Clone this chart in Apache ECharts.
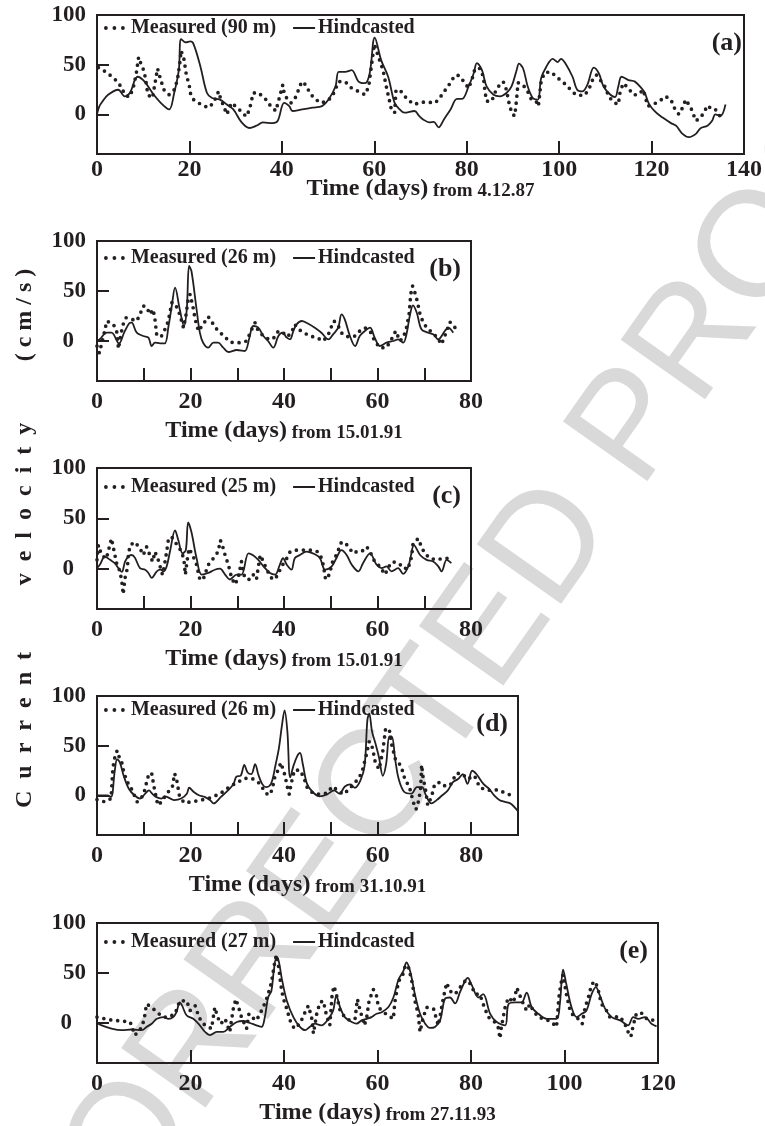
<!DOCTYPE html>
<html><head><meta charset="utf-8">
<script src="https://cdn.jsdelivr.net/npm/echarts@6/dist/echarts.min.js"></script>
<style>html,body{margin:0;padding:0;background:#fff}#c{width:765px;height:1126px}</style>
</head><body><div id="c"></div>
<script>
// ---------- DATA (day, cm/s) ----------
const measuredA = [[0.3,47],[1.35,44.4],[2.8,39.5],[4.2,33.9],[5.3,27.3],[6.0,19.7],[7.0,17.4],[7.8,25.7],[8.5,41.1],[9.0,57.6],[9.5,51.0],[10.1,44.4],[10.5,36.2],[11.0,19.7],[12.0,16.4],[13.1,46.1],[13.8,34.5],[14.5,24.7],[15.6,19.7],[16.7,24.7],[17.4,34.5],[17.9,51.0],[18.2,64.1],[18.8,55.9],[19.4,37.8],[19.9,31.3],[20.2,21.4],[20.9,14.8],[22.5,9.9],[24.1,6.6],[25.2,11.5],[26.3,23.0],[26.6,18.1],[27.4,8.2],[28.1,0],[29.1,11.5],[30.0,8],[31.2,3],[32.3,-2.3],[33.0,4.9],[33.8,21.4],[34.8,22.0],[36.3,16.4],[37.3,9.9],[38.7,3.3],[40.2,29.6],[40.5,21.4],[41.2,14.8],[42.0,11.5],[43.0,17.4],[44.3,32.9],[45.2,29.6],[45.9,23.0],[46.9,16.4],[48.4,11.5],[49.8,13.2],[50.9,18.1],[52.3,32.9],[53.7,32.9],[55.1,26.3],[56.6,23.0],[58.0,19.7],[58.8,28.0],[59.4,49.3],[60.0,70.7],[60.8,59.2],[61.9,44.4],[62.6,28.0],[63.7,4.9],[64.4,1.6],[64.7,24.7],[65.8,23.0],[67.2,14.8],[68.7,9.9],[70.1,12.2],[71.5,12.2],[73.2,11.5],[74.4,18.1],[75.4,24.7],[76.5,31.9],[77.4,39.1],[78.3,39.1],[79.4,32.9],[80.4,26.3],[81.1,34.5],[81.8,46.1],[82.9,46.1],[83.6,37.8],[84.0,21.4],[84.3,13.2],[85.4,13.2],[86.5,26.3],[87.9,32.9],[88.6,24.7],[89.0,14.8],[89.3,8.2],[89.9,0],[90.4,-1.6],[90.8,15.5],[91.1,31.9],[92.2,29.6],[93.2,23.0],[94.0,14.8],[95.0,13.2],[95.5,8.2],[96.1,32.9],[96.8,41.8],[98.2,42.8],[99.8,36.2],[101.1,31.3],[102.5,24.7],[103.6,19.7],[105.4,18.8],[106.4,24.7],[107.5,37.8],[108.1,39.5],[108.9,34.5],[110.0,27.3],[110.7,18.1],[111.8,12.2],[112.8,9.9],[113.2,23.0],[113.9,31.3],[115.0,26.3],[116.0,19.7],[117.1,19.7],[118.2,24.7],[119.2,8.2],[120.3,9.9],[121.7,13.2],[123.0,18.1],[124.2,14.8],[124.9,6.6],[125.9,0],[126.7,6.6],[127.4,14.8],[128.5,6.6],[129.6,-6.6],[130.6,-3.3],[131.3,1.6],[132.1,8.9],[133.1,4.9],[133.8,4.9],[134.6,0],[135.4,-7.6]];
const hindcastA = [[0,0],[0.5,8],[1.2,13],[2.4,19.7],[4.6,24.7],[6.0,18.1],[7.1,21.4],[8.8,37.8],[10.3,32.9],[12.0,21.4],[13.8,11.5],[15.6,4.9],[16.7,21.4],[17.7,44.4],[18.2,75.7],[19.2,72.4],[20.2,73.4],[20.9,70.7],[22.4,47.7],[23.8,21.4],[24.9,16.4],[26.6,14.8],[28.1,9.9],[29.5,4.9],[31.3,-8.2],[33.0,-13.8],[34.5,-11.5],[35.9,-8.2],[38.0,-8.9],[39.1,-6.6],[40.5,11.5],[41.6,8.2],[42.3,3.3],[44.4,4.9],[46.6,6.6],[48.7,8.2],[50.1,14.8],[51.6,28.0],[52.3,42.8],[53.7,42.8],[55.1,44.4],[56.6,32.9],[58.0,31.3],[59.0,41.1],[60.1,77.3],[61.5,54.3],[63.0,37.8],[64.4,11.5],[65.5,4.9],[66.5,1.6],[68.7,3.3],[69.7,-1.6],[70.5,-4.9],[71.9,-8.2],[72.9,-7.6],[73.9,-13.2],[75.1,-4.9],[76.5,4.9],[77.9,15.5],[79.0,15.5],[80.4,28.0],[81.5,41.1],[82.2,51.6],[83.3,44.4],[84.3,28.0],[85.8,19.7],[87.2,18.1],[88.6,21.4],[89.7,28.0],[90.8,44.4],[91.3,51.0],[92.2,46.1],[93.2,28.0],[94.3,16.4],[95.4,14.8],[96.1,36.2],[97.2,47.7],[98.6,55.9],[99.7,52.6],[100.4,55.9],[101.4,51.0],[102.9,37.8],[103.9,24.7],[105.0,23.0],[106.1,29.6],[107.5,47.0],[108.6,41.1],[109.6,28.0],[111.1,19.7],[112.1,17.4],[112.8,28.0],[113.5,37.8],[115.0,34.5],[116.4,32.9],[117.8,26.3],[118.5,22],[119.5,10],[121.0,1.6],[122.4,-3.3],[124.2,-8.9],[125.3,-11.5],[126.7,-19.7],[128.1,-23.0],[129.6,-19.7],[130.6,-14.1],[132.1,-11.5],[133.1,-6.6],[133.8,0],[134.9,-1.6],[136.0,9.9]];

const measuredB = [[0,-5],[0.5,-12],[1.4,5],[2.1,20],[3.5,16.7],[4.2,10],[4.6,-7.7],[5.1,6.7],[5.6,16.7],[6.2,23.3],[7.1,22.3],[8.5,20],[9.2,26.7],[9.9,35],[10.6,34.3],[11.3,26.7],[12.0,31.7],[12.4,21.7],[12.6,13.3],[12.8,5],[13.8,5],[14.9,15],[15.3,21.7],[15.6,28.3],[16.0,38.3],[16.7,37.7],[17.7,26.7],[18.5,13.3],[19.0,25],[19.5,41.7],[19.9,46.7],[20.5,35],[21.0,21.7],[21.7,10],[22.7,16.7],[23.8,24.3],[24.9,16.7],[25.9,10],[27.2,5],[28.4,-1],[29.5,-1.7],[30.9,-1.7],[32.0,0],[33.1,11.7],[33.8,18.3],[34.5,10],[35.6,5],[36.8,1.7],[37.7,2.3],[38.8,10],[39.8,8.3],[40.7,4.3],[41.6,8.3],[42.3,16.7],[43.1,11.7],[44.3,8.3],[45.5,5],[47.0,3.3],[48.4,0],[49.5,6.7],[50.2,15],[50.7,20],[51.6,15],[52.5,6.7],[53.7,4.3],[55.2,5],[56.2,10],[57.3,13.3],[58.4,10],[59.4,0],[60.5,-6.7],[61.9,-6.7],[63.0,1.7],[63.9,10],[64.8,0],[65.5,3.3],[66.2,13.3],[66.8,28.3],[67.1,46.7],[67.5,55],[68.0,48.3],[68.5,40],[69.1,26.7],[69.8,18.3],[70.8,11.7],[71.9,8.3],[73.0,1.7],[73.7,-3.3],[74.8,10],[75.5,19],[76.6,13.3]];
const hindcastB = [[0,0],[0.6,1.7],[2.1,8.3],[3.1,8.3],[4.7,-2.3],[5.8,8.3],[6.9,17.7],[7.4,18.3],[8.5,8.3],[9.9,5],[11.0,3.3],[11.7,-5],[12.4,-1.7],[13.5,-2.3],[14.5,-2.3],[15.3,15],[16.0,35],[16.7,53.3],[17.7,31.7],[18.6,15],[19.2,31.7],[19.7,75],[20.2,70],[21.3,31.7],[22.0,8.3],[22.7,-1.7],[23.8,-6.7],[24.9,-1.7],[25.9,-1.7],[27.0,-6.7],[28.1,-11],[29.9,-9],[31.6,-10],[32.6,3.3],[33.4,15],[34.5,13.3],[35.6,5],[36.6,0],[37.7,-6.7],[38.8,5],[39.7,8.3],[40.6,3.3],[41.3,1.7],[42.0,10],[42.7,16.7],[43.8,20],[44.8,18.3],[46.6,13.3],[48.0,8.3],[49.5,1.7],[50.5,6.7],[51.6,13.3],[52.3,26.7],[53.0,21.7],[54.1,5],[55.2,-5],[56.2,5],[57.3,10],[58.4,13.3],[59.4,3.3],[60.5,-5],[61.9,-1.7],[63.4,0],[64.4,1.7],[65.5,-1.7],[66.2,6.7],[66.9,25],[67.6,35.7],[68.4,28.3],[69.4,11.7],[70.8,8.3],[71.9,6.7],[73.0,1.7],[74.4,10],[75.1,13.3],[76.2,8.3]];

const measuredC = [[0,8.8],[0.3,23.4],[1.0,13.6],[2.0,10],[3.1,30],[3.8,14.3],[4.2,5.5],[4.9,-2.6],[5.3,-12.3],[5.6,-25.3],[6.0,-9.1],[6.5,0.6],[6.7,13.6],[7.1,23.4],[8.1,26.6],[9.2,20.1],[9.9,13.6],[10.6,21.8],[11.3,13.6],[11.9,7.1],[12.4,16.9],[13.1,8.8],[13.5,2.3],[14.0,-5.8],[14.5,5.5],[14.9,16.9],[15.3,29.9],[16.0,31.5],[16.7,26.6],[17.4,21.8],[18.1,16.9],[18.6,8.8],[18.9,-5.8],[19.3,8.8],[19.7,20.1],[20.6,12],[21.3,3.9],[22.0,-10.7],[22.7,-10.7],[23.8,3.9],[24.9,10.4],[25.9,16.9],[26.4,28.2],[26.9,21.8],[27.4,13.6],[28.1,3.9],[28.8,-9.1],[29.5,-15.6],[30.2,-9.1],[30.9,7.1],[31.6,-9.1],[32.6,-10.7],[33.4,-5.8],[34.1,-10.7],[34.9,13.6],[35.6,7.1],[36.3,-1],[37.3,-9.1],[38.1,-10.7],[38.8,-4.2],[39.7,3.9],[40.6,10.4],[41.3,16.9],[42.7,18.5],[44.1,18.5],[45.5,18.5],[47.0,17.5],[47.8,13.6],[48.4,3.9],[48.9,-10.7],[49.7,-5.8],[50.4,7.1],[51.2,13.6],[52.3,26.6],[53.4,24],[54.8,15.3],[55.5,16.9],[56.6,16.9],[57.7,21.8],[58.4,16.9],[59.4,7.1],[60.5,2.3],[61.6,-5.8],[62.7,4.5],[63.4,7.1],[64.4,3.9],[65.5,3.9],[66.2,-1],[66.8,3.9],[67.3,12],[67.6,25],[68.7,29.9],[69.4,21.8],[70.1,15.3],[71.2,10.4],[72.6,8.8],[74.1,10.4],[75.1,10.4]];
const hindcastC = [[0,0.6],[0.6,3.9],[1.7,12],[2.8,8.8],[3.8,5.5],[4.6,0.6],[5.3,-3.2],[6.0,7.1],[6.7,12],[7.4,13.6],[8.1,11],[9.2,0.6],[10.3,-1],[11.0,-4.2],[11.7,-9.1],[12.8,-2.6],[13.6,-1],[14.2,-2.6],[14.9,2.3],[15.6,16.9],[16.7,38],[17.4,28.2],[18.3,15.3],[19.0,18.5],[19.5,46.1],[20.2,36.4],[21.3,10.4],[22.4,-5.8],[23.8,-4.2],[25.2,-1],[26.3,0],[27.4,-5.8],[28.4,-10.7],[29.9,-5.8],[30.9,-5.8],[32.4,15.3],[33.3,13.6],[34.5,8.8],[35.6,2.3],[37.0,-4.2],[38.1,-5.8],[39.1,3.9],[39.8,10.4],[40.6,3.9],[41.6,-1],[42.3,10.4],[43.4,13.6],[44.8,16.9],[46.6,14.3],[47.7,10.4],[48.8,-1],[50.2,2.3],[51.2,10.4],[52.3,18.5],[53.4,13.6],[54.5,3.9],[55.9,-2.6],[56.9,5.5],[58.4,15.3],[59.8,3.9],[60.9,0.6],[61.9,2.3],[63.0,-2.6],[64.4,0.6],[65.5,-5.2],[66.6,2.3],[67.1,12],[67.8,23.4],[69.1,13.6],[70.5,8.8],[71.9,7.1],[73.0,2.3],[73.7,-2.6],[74.8,8.8],[75.8,5.5]];

const measuredD = [[0,-4.3],[1.7,-6.6],[3.0,-3.3],[3.4,28],[3.8,37.8],[4.3,45],[4.8,37.8],[5.3,32.9],[5.8,22],[6.5,13.2],[7.2,8.2],[8.6,-6.6],[9.9,0],[10.7,14.8],[11.1,22],[11.7,22],[12.2,8.2],[13.0,-9.9],[13.8,-6.6],[14.9,1.6],[16.1,8.2],[16.6,22],[17.1,14.1],[17.6,0],[18.6,-7.6],[20.3,-6.6],[22.1,-4.9],[23.8,-3.3],[25.5,0],[27.2,4.3],[28.6,9.9],[29.9,12.2],[31.1,16.4],[32.2,17.4],[33.4,16.4],[34.9,11.5],[35.7,4.9],[36.6,0],[37.4,4.9],[38.0,18.1],[38.8,26.3],[39.3,32.9],[39.7,27.3],[40.2,19.7],[40.7,8.2],[41.1,1],[41.5,11.5],[42.2,25.3],[43.4,25.3],[44.2,18.1],[44.9,8.2],[46.1,2.3],[47.6,1],[49.2,2.3],[50.3,8.9],[51.5,4.9],[52.6,1],[53.8,5.6],[54.9,11.5],[56.1,18.1],[56.8,26.3],[57.6,41.1],[58.2,54.3],[58.9,47.7],[59.5,32.9],[60.3,26.3],[61.1,44.4],[61.7,67.4],[62.5,65.8],[63.0,51],[63.8,36.2],[65.0,29.6],[65.8,16.4],[66.8,8.2],[67.6,-6.6],[68.2,-14.1],[68.8,-4.9],[69.2,8.2],[69.4,30.6],[69.7,18.1],[70.2,6.6],[70.7,-9.9],[71.5,-1.6],[72.2,11.5],[73.4,13.2],[74.5,8.9],[75.7,11.5],[76.8,22],[78.0,22],[79.2,16.4],[80.7,19.7],[81.8,8.2],[83.0,5.6],[84.2,4.9],[85.7,5.6],[87.6,1.6],[89.2,-1]];
const hindcastD = [[0,0],[2.2,0],[3.0,-1.6],[3.8,24.7],[4.3,36.2],[4.9,32.9],[5.7,19.7],[6.8,6.6],[8.0,0],[9.2,-3.3],[10.3,1.6],[11.1,4.9],[11.8,1.6],[12.6,-1.6],[13.8,-3.3],[14.5,-1],[15.7,-3.3],[16.5,-4.9],[18.0,-3.3],[19.2,1.6],[19.7,7.6],[20.7,3.3],[21.8,0],[23.0,-1.6],[24.2,-4.9],[24.9,-8.2],[26.5,-1.6],[28.0,4.9],[29.2,11.5],[29.8,18.8],[30.7,19.7],[31.5,30.6],[32.2,23],[33.0,21.4],[33.8,31.3],[34.5,20.7],[35.3,11.5],[36.1,8.2],[37.2,11.5],[38.2,31.3],[38.9,47.7],[39.5,69.1],[40.1,85.5],[40.7,64.1],[41.3,18.1],[42.0,29.6],[42.8,39.5],[43.4,42.8],[44.0,31.3],[44.9,11.5],[46.1,3.3],[47.6,-1],[49.2,1],[50.7,4.9],[51.8,1.6],[53.0,8.9],[54.2,10.9],[55.1,7.6],[56.3,14.8],[57.2,29.6],[57.8,75.7],[58.2,82.2],[58.8,64.1],[59.5,52.6],[60.3,37.8],[61.1,19.7],[61.8,31.3],[62.5,59.2],[63.0,59.2],[63.8,34.5],[64.5,16.4],[65.7,3.3],[67.2,1.6],[68.4,8.2],[69.5,8.2],[70.3,0],[71.5,-8.2],[72.6,-4.9],[73.8,0],[75.0,4.9],[76.1,13.2],[77.2,16.4],[78.2,21.4],[79.2,11.5],[80.2,24.7],[81.1,21.4],[82.6,11.5],[83.8,6.6],[84.9,0],[86.1,-4.9],[87.2,-6.6],[88.4,-8.2],[90,-16]];

const measuredE = [[0,5.9],[1.7,4.2],[3.5,2.6],[5.3,2],[7.1,1],[8.1,-12.1],[8.8,-8.8],[9.6,-3.9],[10.1,4.2],[10.6,19],[11.7,15.7],[12.8,10.8],[14.2,5.9],[15.3,5.9],[16.7,9.2],[17.7,22.2],[18.5,22.2],[19.2,22.2],[19.9,12.4],[21.0,17.3],[21.8,5.9],[22.7,-0.7],[23.8,-3.9],[24.5,-5.6],[25.2,15.7],[25.8,5.9],[26.5,-0.7],[27.4,4.2],[28.4,-8.8],[29.2,15.7],[29.7,23.9],[30.2,17.3],[30.9,5.9],[32.0,-5.6],[32.5,9.2],[33.1,5.9],[34.1,2.6],[35.2,12.4],[35.9,19.6],[36.5,27.1],[37.3,40.2],[38.1,63.1],[38.4,68],[38.9,54.9],[39.3,38.6],[39.8,25.5],[40.6,14.1],[41.3,2.6],[42.2,-5.6],[43.4,-0.7],[44.5,10.8],[45.2,17.3],[45.9,5.9],[46.3,-10.5],[47.0,9.2],[47.7,20.6],[48.4,22.2],[49.1,7.5],[49.8,-2.3],[50.3,28.8],[50.7,36.9],[51.2,28.8],[52.0,12.4],[53.0,5.9],[54.1,2.6],[55.2,4.2],[55.7,23.9],[56.2,14.1],[57.2,-2.3],[57.7,5.9],[58.2,22.2],[59.1,33.7],[59.8,27.1],[60.2,15.7],[61.3,10.8],[62.3,7.5],[63.4,4.2],[63.7,20.6],[64.5,41.8],[65.3,46.7],[66.0,58.2],[66.7,54.9],[67.5,38.6],[68.0,22.2],[68.7,9.2],[69.1,-8.8],[69.8,5.9],[70.5,15.7],[72.0,14.1],[73.0,-2.3],[73.4,7.5],[74.1,25.5],[74.8,40.2],[75.5,32],[76.6,28.8],[77.6,35.3],[78.7,41.8],[79.4,42.5],[80.1,36.9],[80.9,28.8],[81.9,28.8],[82.6,19],[83.7,5.9],[84.8,2.6],[85.8,-3.9],[86.2,-15.4],[86.5,-3.9],[87.3,15.7],[88.0,25.5],[89.1,20.6],[89.8,35.3],[90.5,27.1],[91.2,19],[91.9,12.4],[92.6,19],[93.3,12.4],[94.4,5.9],[95.5,4.2],[96.5,2.6],[97.6,-0.7],[98.3,-3.9],[98.8,25.5],[99.2,38.6],[99.7,48.4],[100.4,28.8],[101.2,12.4],[102.1,5.9],[103.0,4.2],[103.8,-0.7],[104.4,15.7],[105.1,25.5],[105.8,38.6],[106.5,41.8],[107.1,35.3],[107.9,19],[109.0,12.4],[109.7,5.9],[110.8,5.9],[111.9,6.5],[112.9,-0.7],[113.6,-8.8],[114.2,-13.7],[114.7,-2.3],[115.4,9.8],[116.5,9.8],[117.6,4.2],[118.6,4.2],[119.3,1]];
const hindcastE = [[0,0],[1.0,-2.3],[3.1,-5.6],[5.3,-7.2],[7.4,-6.5],[9.6,-7.2],[10.6,-3.9],[11.7,-0.7],[12.8,4.2],[14.2,5.9],[15.3,4.2],[16.3,5.9],[17.0,10.8],[17.7,20.6],[18.2,17.3],[19.2,7.5],[20.6,4.2],[22.0,-2.3],[23.1,-8.8],[24.2,-12.1],[25.6,-8.8],[27.0,-8.8],[28.4,-3.9],[29.9,1],[31.3,2],[32.7,0],[34.1,-2.3],[35.2,-3.9],[35.9,5.9],[36.6,25.5],[37.3,32],[37.8,51.6],[38.4,66.3],[38.9,61.4],[39.5,45.1],[40.6,22.2],[42.0,5.9],[43.4,-3.9],[44.5,-7.2],[45.5,-3.9],[46.6,-0.7],[48.0,-2.3],[49.5,4.2],[50.5,12.4],[51.2,27.1],[52.0,15.7],[53.0,5.9],[54.5,1],[55.5,-0.7],[56.6,2.6],[57.7,4.2],[58.7,5.9],[59.8,9.2],[60.9,10.8],[62.3,15.7],[63.4,25.5],[64.5,43.5],[65.5,51.6],[66.2,60.5],[67.0,51.6],[68.0,28.8],[69.1,9.2],[70.2,-0.7],[71.2,-4.9],[72.3,-3.9],[73.4,2.6],[74.4,23.9],[75.5,25.5],[76.6,19.6],[77.6,30.4],[78.7,41.8],[79.3,45.1],[80.1,38.6],[81.6,25.5],[82.6,28.8],[84.1,9.2],[85.5,1],[87.3,-2.3],[88.0,18.6],[89.4,20.6],[90.8,20.6],[91.9,30.4],[93.0,15.7],[94.4,9.2],[96.2,4.2],[98.3,4.2],[99.0,19],[99.7,53.3],[100.4,38.6],[101.5,15.7],[102.6,5.9],[103.7,9.2],[104.7,12.4],[105.8,28.8],[106.7,35.9],[107.6,27.1],[108.7,14.1],[110.1,5.9],[111.9,2.6],[113.6,-2.3],[114.7,5.9],[115.8,4.2],[117.2,5.9],[118.6,-0.7],[119.7,-3.3]];

// names / tick labels
const panelTags = ['(a)','(b)','(c)','(d)','(e)'];
const measuredNames = ['Measured (90 m)','Measured (26 m)','Measured (25 m)','Measured (26 m)','Measured (27 m)'];
const hindcastName = 'Hindcasted';
const startDates = ['from 4.12.87','from 15.01.91','from 15.01.91','from 31.10.91','from 27.11.93'];
const xMaxes = [140, 80, 80, 90, 120];
const xLabelsA = [0,20,40,60,80,100,120,140];
const xTicksA = [20,40,60,80,100,120];
const xLabelsBCD = [0,20,40,60,80];
const xTicksBCD = [10,20,30,40,50,60,70,80];
const xLabelsE = [0,20,40,60,80,100,120];
const xTicksE = [20,40,60,80,100];
const yLabels = [0,50,100];
const yTitleWords = ['Current','velocity','(cm/s)'];
const watermarkText = 'UNCORRECTED PROOF';

// ---------- LAYOUT ----------
const INK = '#231f20';
const SERIF = '"Liberation Serif","Times New Roman",serif';
const grids = [
  {left:97, top:15,  width:655, height:139},
  {left:97, top:241, width:374, height:140},
  {left:97, top:468, width:374, height:141},
  {left:97, top:696, width:421, height:139},
  {left:97, top:923, width:561, height:140}
];
const xLabelSets = [xLabelsA, xLabelsBCD, xLabelsBCD, xLabelsBCD, xLabelsE];
const xTickSets = [xTicksA, xTicksBCD.filter(v=>v<80), xTicksBCD.filter(v=>v<80), xTicksBCD, xTicksE];
const measuredSets = [measuredA, measuredB, measuredC, measuredD, measuredE];
const hindcastSets = [hindcastA, hindcastB, hindcastC, hindcastD, hindcastE];
const nameGaps = [21, 36, 36, 36, 36];
const labelMargins = [4, 9, 9, 9, 9];
const legendOffsets = [3, 7, 9, 4, 9];
const zeroShift = [0, 12, 12, 0, 14];

const yLabelFont = {color:INK, fontFamily:SERIF, fontWeight:'bold', fontSize:23};
const dotStyle = {color:INK, width:3.7, type:[0,7], cap:'round', join:'round'};

const option = {
  animation: false,
  backgroundColor: '#fff',
  grid: grids.map(g => Object.assign({show:true, borderColor:INK, borderWidth:2, backgroundColor:'transparent', containLabel:false}, g)),
  xAxis: grids.map((g,i) => ({
    type:'value', gridIndex:i, min:0, max:xMaxes[i],
    axisLine:{show:false, onZero:false}, splitLine:{show:false},
    axisTick:{show:true, inside:true, length:13, lineStyle:{color:INK, width:2}, customValues:xTickSets[i]},
    axisLabel:{show:true, customValues:xLabelSets[i], margin:labelMargins[i], color:INK, fontFamily:SERIF, fontWeight:'bold', fontSize:24, lineHeight:24},
    name:'{a|Time (days)} {b|' + startDates[i] + '}',
    nameLocation:'middle', nameGap:nameGaps[i], nameMoveOverlap:false,
    nameTextStyle:{color:INK, fontFamily:SERIF, fontWeight:'bold', fontSize:19,
      rich:{a:{fontFamily:SERIF, fontWeight:'bold', fontSize:24, color:INK, lineHeight:26, verticalAlign:'bottom'},
            b:{fontFamily:SERIF, fontWeight:'bold', fontSize:19, color:INK, lineHeight:26, verticalAlign:'bottom'}}}
  })),
  yAxis: grids.map((g,i) => ({
    type:'value', gridIndex:i, min:-40, max:100,
    axisLine:{show:false, onZero:false}, splitLine:{show:false},
    axisTick:{show:true, inside:true, length:12, lineStyle:{color:INK, width:2}, customValues:yLabels},
    axisLabel:Object.assign({show:true, customValues:yLabels, margin:11,
      formatter: v => v === 0 ? '{z|0}' : String(v),
      rich:{z:Object.assign({padding:[0, zeroShift[i], 0, 0]}, yLabelFont)}}, yLabelFont)
  })),
  legend: grids.map((g,i) => ({
    left:g.left+7, top:g.top+legendOffsets[i], padding:0, itemGap:16, itemWidth:22, itemHeight:12,
    selectedMode:false,
    itemStyle:{opacity:0},
    data:[
      {name:measuredNames[i], lineStyle:{color:INK, width:3.8, type:[0,8.5], cap:'round'}},
      {name:hindcastName, lineStyle:{color:INK, width:2}}
    ],
    textStyle:{color:INK, fontFamily:SERIF, fontWeight:'bold', fontSize:20, padding:[0,0,0,-2]}
  })),
  series: [],
  graphic: { elements: [] }
};

grids.forEach((g,i) => {
  option.series.push({
    type:'line', name:measuredNames[i], xAxisIndex:i, yAxisIndex:i,
    data:measuredSets[i], symbol:'none', showSymbol:false, silent:true, z:3,
    itemStyle:{color:INK},
    lineStyle:dotStyle
  });
  option.series.push({
    type:'line', name:hindcastName, xAxisIndex:i, yAxisIndex:i,
    data:hindcastSets[i], symbol:'none', showSymbol:false, silent:true, smooth:0.35, z:4,
    itemStyle:{color:INK},
    lineStyle:{color:INK, width:1.8}
  });
});

const els = option.graphic.elements;
// watermark
els.push({type:'text', x:412, y:743, rotation:54.8*Math.PI/180, z:-100, silent:true,
  style:{text:watermarkText, font:'150px "Liberation Sans", Arial, sans-serif', fill:'#d9d9d9', align:'center', verticalAlign:'middle'}});
// panel tags
grids.forEach((g,i) => {
  els.push({type:'text', x:g.left+g.width-10, y:g.top+28, z:10,
    style:{text:panelTags[i], font:'bold 26px ' + SERIF, fill:INK, align:'right', verticalAlign:'middle'}});
});
// vertical y title
const yTitleCenters = [730, 504, 315];
const yTitleGaps = ['  ', '  ', ' '];
yTitleWords.forEach((w,i) => {
  els.push({type:'text', x:25, y:yTitleCenters[i], rotation:Math.PI/2, z:10,
    style:{text:w.split('').join(yTitleGaps[i]), font:'bold 24px ' + SERIF, fill:INK, align:'center', verticalAlign:'middle'}});
});

const chart = echarts.init(document.getElementById('c'), null, {renderer:'canvas'});
chart.setOption(option);
</script>
</body></html>
